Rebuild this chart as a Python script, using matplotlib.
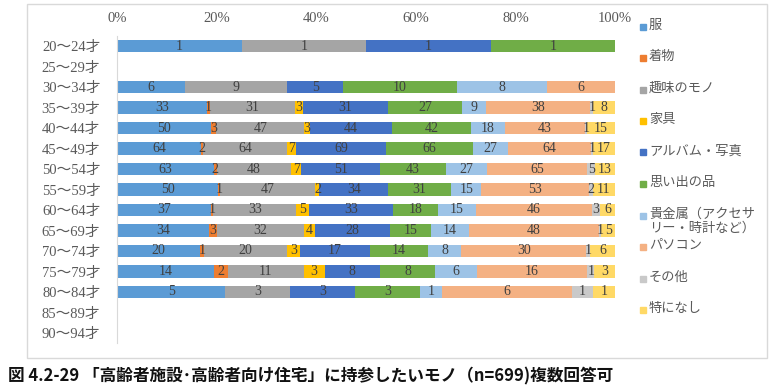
import numpy as np
import matplotlib.pyplot as plt
from matplotlib.lines import Line2D
from matplotlib.patches import Rectangle

ages = ['20～24才', '25～29才', '30～34才', '35～39才', '40～44才', '45～49才',
        '50～54才', '55～59才', '60～64才', '65～69才', '70～74才', '75～79才',
        '80～84才', '85～89才', '90～94才']
categories = ['服', '着物', '趣味のモノ', '家具', 'アルバム・写真', '思い出の品',
              '貴金属（アクセサ\nリー・時計など）', 'パソコン', 'その他', '特になし']
colors = ['#5B9BD5', '#ED7D31', '#A5A5A5', '#FFC000', '#4472C4', '#70AD47',
          '#9DC3E6', '#F4B183', '#C9C9C9', '#FFD966']

fuku = [1, 0, 6, 33, 50, 64, 63, 50, 37, 34, 20, 14, 5, 0, 0]
kimono = [0, 0, 0, 1, 3, 2, 2, 1, 1, 3, 1, 2, 0, 0, 0]
shumi = [1, 0, 9, 31, 47, 64, 48, 47, 33, 32, 20, 11, 3, 0, 0]
kagu = [0, 0, 0, 3, 3, 7, 7, 2, 5, 4, 3, 3, 0, 0, 0]
album = [1, 0, 5, 31, 44, 69, 51, 34, 33, 28, 17, 8, 3, 0, 0]
omoide = [1, 0, 10, 27, 42, 66, 43, 31, 18, 15, 14, 8, 3, 0, 0]
kikinzoku = [0, 0, 8, 9, 18, 27, 27, 15, 15, 14, 8, 6, 1, 0, 0]
pasokon = [0, 0, 6, 38, 43, 64, 65, 53, 46, 48, 30, 16, 6, 0, 0]
sonota = [0, 0, 0, 1, 1, 1, 5, 2, 3, 1, 1, 1, 1, 0, 0]
tokuni = [0, 0, 0, 8, 15, 17, 13, 11, 6, 5, 6, 3, 1, 0, 0]

caption = '図 4.2-29 「高齢者施設･高齢者向け住宅」に持参したいモノ（n=699)複数回答可'

series = [fuku, kimono, shumi, kagu, album, omoide, kikinzoku, pasokon,
          sonota, tokuni]

serif = ['Liberation Serif', 'Noto Sans CJK JP']
txt_col = '#595959'

data = np.array(series, dtype=float)
totals = data.sum(axis=0)
share = np.divide(data, totals, out=np.zeros_like(data), where=totals > 0)

fig = plt.figure(figsize=(7.75, 3.9), dpi=100)
ax = fig.add_axes([117 / 775, 0.1199, (615 - 117) / 775, 0.9083 - 0.1199])

y = np.arange(len(ages))
left = np.zeros(len(ages))
for vals, frac, col in zip(data, share, colors):
    ax.barh(y, frac, left=left, height=0.6, color=col, linewidth=0)
    for yi, v, f, l in zip(y, vals, frac, left):
        if v > 0:
            ax.text(l + f / 2, yi, f'{int(v)}', ha='center', va='center',
                    fontsize=10, color='#404040', family=serif)
    left += frac

ax.set_xlim(0, 1)
ax.set_ylim(len(ages) - 0.5, -0.5)
ax.xaxis.tick_top()
ax.set_xticks(np.linspace(0, 1, 6))
ax.set_xticklabels([f'{int(p)}%' for p in np.linspace(0, 100, 6)],
                   family=serif, fontsize=10.5, color=txt_col)
ax.set_yticks(y)
ax.set_yticklabels(ages, family=serif, fontsize=10.5, color=txt_col)
ax.tick_params(axis='x', length=0, pad=8)
ax.tick_params(axis='y', length=0, pad=12)
for s in ['top', 'right', 'bottom']:
    ax.spines[s].set_visible(False)
ax.spines['left'].set_color('#D9D9D9')

# legend, drawn by hand to keep Excel's spacing
for i, (cat, col) in enumerate(zip(categories, colors)):
    yy = 1 - (26.5 + 31.5 * i) / 390
    fig.add_artist(Line2D([643 / 775], [yy], marker='s', markersize=5,
                          color=col, linestyle='none',
                          transform=fig.transFigure))
    fig.text(649 / 775, yy + 8 / 390, cat, ha='left', va='top',
             fontsize=9.5, color=txt_col, family='Noto Sans CJK JP',
             linespacing=1.15)

fig.add_artist(Rectangle((27 / 775, 1 - 358 / 390), (767 - 27) / 775,
                         (358 - 4) / 390, fill=False, edgecolor='#D9D9D9',
                         linewidth=1, transform=fig.transFigure))

fig.text(8 / 775, 1 - 376 / 390, caption, ha='left', va='center',
         fontsize=12, fontweight='bold', family='Noto Sans CJK JP',
         color='#111111')

fig.savefig('out.png', dpi=100)
